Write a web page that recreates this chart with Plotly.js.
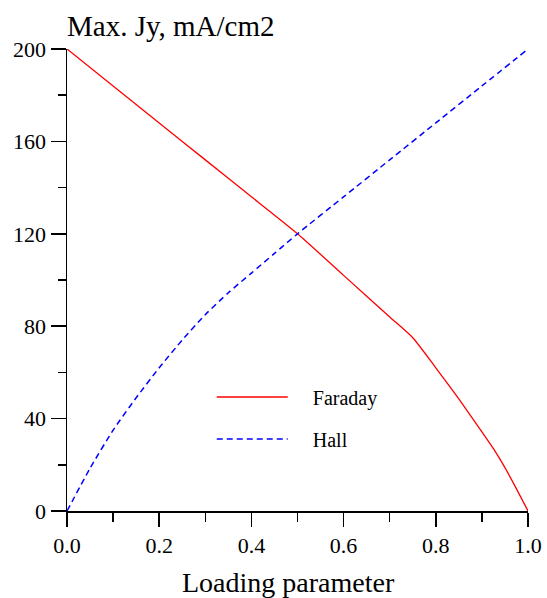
<!DOCTYPE html>
<html>
<head>
<meta charset="utf-8">
<script src="https://cdn.plot.ly/plotly-3.0.1.min.js"></script>
<style>html,body{margin:0;padding:0;background:#fff;}#chart{width:547px;height:598px;}</style>
</head>
<body>
<div id="chart"></div>
<script>
// Data
var faradayX = [0, 0.1, 0.2, 0.3, 0.4, 0.5, 0.6, 0.7, 0.75, 0.8, 0.85, 0.9, 0.925, 0.95, 0.975, 1.0];
var faradayY = [200, 184, 168, 152, 136, 120, 102, 84, 75, 62, 48.5, 34.3, 27, 18.8, 9.6, 0];
var hallX = [0, 0.05, 0.1, 0.15, 0.2, 0.25, 0.3, 0.35, 0.4, 0.45, 0.5, 0.6, 0.7, 0.8, 0.9, 1.0];
var hallY = [0, 18.5, 35, 49, 62, 74, 85, 94.5, 103, 111.5, 120, 136, 152, 168, 184, 200];
var seriesNames = ["Faraday", "Hall"];
var yTickVals = [0, 40, 80, 120, 160, 200];
var xTickVals = [0, 0.2, 0.4, 0.6, 0.8, 1.0];
var xTickText = ["0.0", "0.2", "0.4", "0.6", "0.8", "1.0"];

var serif = "Liberation Serif, Times New Roman, serif";
var pad = "&nbsp;&nbsp;&nbsp;&nbsp;";

var traces = [
  {x: faradayX, y: faradayY, name: pad + seriesNames[0], mode: "lines", legendgroup: "a",
   line: {color: "#ff0000", width: 1.3, shape: "spline", smoothing: 0.6}},
  {x: hallX, y: hallY, name: pad + seriesNames[1], mode: "lines", legendgroup: "b",
   line: {color: "#0000ff", width: 1.5, dash: "6px,4px", shape: "spline", smoothing: 0.6}}
];

var layout = {
  width: 547, height: 598,
  margin: {l: 67, r: 19, t: 49, b: 87},
  paper_bgcolor: "#ffffff", plot_bgcolor: "#ffffff",
  font: {family: serif, color: "#000", size: 22},
  title: {text: "Max. Jy, mA/cm2", font: {family: serif, size: 29, color: "#000"},
          xref: "container", yref: "container", x: 67/547, xanchor: "left",
          y: 1 - 26/598, yanchor: "middle"},
  showlegend: true,
  legend: {x: 0.314, y: 0.289, xanchor: "left", yanchor: "top", bgcolor: "rgba(0,0,0,0)",
           font: {family: serif, size: 20, color: "#000"}, itemwidth: 71,
           tracegroupgap: 13, traceorder: "grouped"},
  annotations: [
    {text: "Loading parameter", xref: "paper", yref: "paper", x: (288 - 67) / 461, y: -71 / 462,
     xanchor: "center", yanchor: "middle", showarrow: false,
     font: {family: serif, size: 28, color: "#000"}}
  ],
  xaxis: {range: [0, 1], showgrid: false, zeroline: false, showline: true, linecolor: "#000",
          linewidth: 1.5, mirror: false, ticks: "outside", ticklen: 14, tickwidth: 1.5,
          tickcolor: "#000", tickvals: xTickVals, ticktext: xTickText,
          tickfont: {family: serif, size: 22, color: "#000"},
          minor: {dtick: 0.1, ticks: "outside", ticklen: 9, tickwidth: 1.5, tickcolor: "#000", showgrid: false}},
  yaxis: {range: [0, 200], showgrid: false, zeroline: false, showline: true, linecolor: "#000",
          linewidth: 1.5, mirror: false, ticks: "outside", ticklen: 15, tickwidth: 1.5,
          tickcolor: "#000", tickvals: yTickVals,
          tickfont: {family: serif, size: 22, color: "#000"},
          minor: {dtick: 20, tick0: 0, ticks: "outside", ticklen: 8, tickwidth: 1.5, tickcolor: "#000", showgrid: false}}
};

Plotly.newPlot("chart", traces, layout, {displayModeBar: false, staticPlot: true});
</script>
</body>
</html>
